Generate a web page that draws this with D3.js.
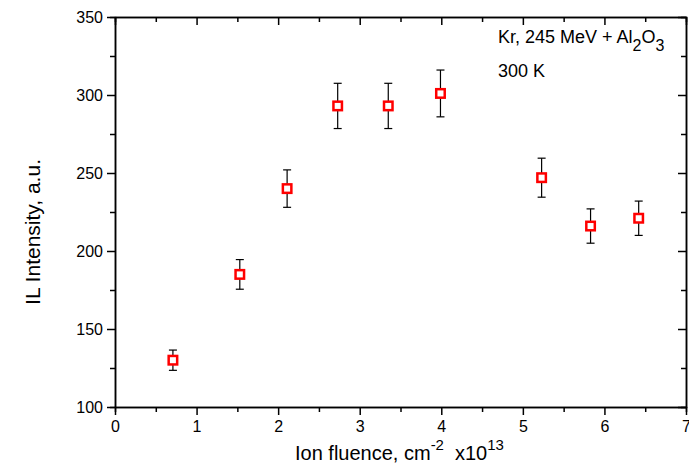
<!DOCTYPE html>
<html>
<head>
<meta charset="utf-8">
<script src="https://cdn.jsdelivr.net/npm/d3@7"></script>
<style>
  body { margin: 0; background: #fff; }
  text { font-family: "Liberation Sans", Arial, sans-serif; fill: #000; }
  .axis path, .axis line { stroke: #000; stroke-width: 1.5; }
  .axis text { font-size: 16px; font-family: "Liberation Sans", Arial, sans-serif; }
</style>
</head>
<body>
<div id="chart"></div>
<script>
// data
const fluence = [0.71, 1.53, 2.11, 2.73, 3.35, 3.99, 5.23, 5.83, 6.42];
const intensity = [130, 185, 240, 293, 293, 301, 247, 216, 221];
const errors = [6.5, 9.5, 12, 14.5, 14.5, 15, 12.5, 11, 11];
const xMajor = [0, 1, 2, 3, 4, 5, 6, 7];
const xMinor = [0.5, 1.5, 2.5, 3.5, 4.5, 5.5, 6.5];
const yMajor = [100, 150, 200, 250, 300, 350];
const yMinor = [125, 175, 225, 275, 325];

const margin = { top: 17, right: 3, bottom: 61, left: 115 },
    width = 689 - margin.left - margin.right,
    height = 468 - margin.top - margin.bottom;

const svg = d3.select("#chart")
    .append("svg")
    .attr("width", width + margin.left + margin.right)
    .attr("height", height + margin.top + margin.bottom)
    .append("g")
    .attr("transform", `translate(${margin.left}, ${margin.top})`);

const x = d3.scaleLinear().domain([0, 7]).range([0, width]);
const y = d3.scaleLinear().domain([100, 350]).range([height, 0]);

// minor ticks first, majors on top
svg.append("g").attr("class", "axis")
    .attr("transform", `translate(0, ${height})`)
    .call(d3.axisBottom(x).tickValues(xMinor).tickSize(5).tickFormat(""));
svg.append("g").attr("class", "axis")
    .call(d3.axisTop(x).tickValues(xMinor).tickSize(-5).tickFormat(""));
svg.append("g").attr("class", "axis")
    .call(d3.axisLeft(y).tickValues(yMinor).tickSize(5).tickFormat(""));
svg.append("g").attr("class", "axis")
    .attr("transform", `translate(${width}, 0)`)
    .call(d3.axisRight(y).tickValues(yMinor).tickSize(-5).tickFormat(""));

svg.append("g").attr("class", "axis")
    .attr("transform", `translate(0, ${height})`)
    .call(d3.axisBottom(x).tickValues(xMajor).tickSize(8).tickSizeOuter(0).tickPadding(6).tickFormat(d3.format("d")));
svg.append("g").attr("class", "axis")
    .call(d3.axisTop(x).tickValues(xMajor).tickSize(-8).tickSizeOuter(0).tickFormat(""));
svg.append("g").attr("class", "axis")
    .call(d3.axisLeft(y).tickValues(yMajor).tickSize(8).tickSizeOuter(0).tickPadding(4).tickFormat(d3.format("d")));
svg.append("g").attr("class", "axis")
    .attr("transform", `translate(${width}, 0)`)
    .call(d3.axisRight(y).tickValues(yMajor).tickSize(-8).tickSizeOuter(0).tickFormat(""));

const points = fluence.map((f, i) => ({ x: f, y: intensity[i], e: errors[i] }));

// error bars
const bars = svg.append("g").selectAll("g")
    .data(points)
    .enter().append("g")
    .attr("stroke", "#000")
    .attr("stroke-width", 1.2);
bars.append("line")
    .attr("x1", d => x(d.x)).attr("x2", d => x(d.x))
    .attr("y1", d => y(d.y - d.e)).attr("y2", d => y(d.y + d.e));
bars.append("line")
    .attr("x1", d => x(d.x) - 4).attr("x2", d => x(d.x) + 4)
    .attr("y1", d => y(d.y + d.e)).attr("y2", d => y(d.y + d.e));
bars.append("line")
    .attr("x1", d => x(d.x) - 4).attr("x2", d => x(d.x) + 4)
    .attr("y1", d => y(d.y - d.e)).attr("y2", d => y(d.y - d.e));

// open red squares
svg.append("g").selectAll("rect")
    .data(points)
    .enter().append("rect")
    .attr("x", d => x(d.x) - 4.25)
    .attr("y", d => y(d.y) - 4.25)
    .attr("width", 8.5)
    .attr("height", 8.5)
    .attr("fill", "#fff")
    .attr("stroke", "#ff0000")
    .attr("stroke-width", 2.5);

// axis titles
const xTitle = svg.append("text")
    .attr("x", 180)
    .attr("y", height + 53)
    .style("font-size", "20px");
xTitle.append("tspan").text("Ion fluence, cm");
xTitle.append("tspan").attr("dy", -10).style("font-size", "15px").text("-2");
xTitle.append("tspan").attr("dy", 10).attr("dx", 11).text("x10");
xTitle.append("tspan").attr("dy", -10).style("font-size", "15px").text("13");

svg.append("text")
    .attr("transform", `translate(${-75}, ${height / 2 + 20}) rotate(-90)`)
    .attr("text-anchor", "middle")
    .style("font-size", "21px")
    .text("IL Intensity, a.u.");

// annotation
const note = svg.append("text")
    .attr("x", 383)
    .attr("y", 26)
    .style("font-size", "18px");
note.append("tspan").text("Kr, 245 MeV + Al");
note.append("tspan").attr("dy", 8).style("font-size", "16px").text("2");
note.append("tspan").attr("dy", -8).text("O");
note.append("tspan").attr("dy", 8).style("font-size", "16px").text("3");

svg.append("text")
    .attr("x", 383)
    .attr("y", 60)
    .style("font-size", "18px")
    .text("300 K");
</script>
</body>
</html>
